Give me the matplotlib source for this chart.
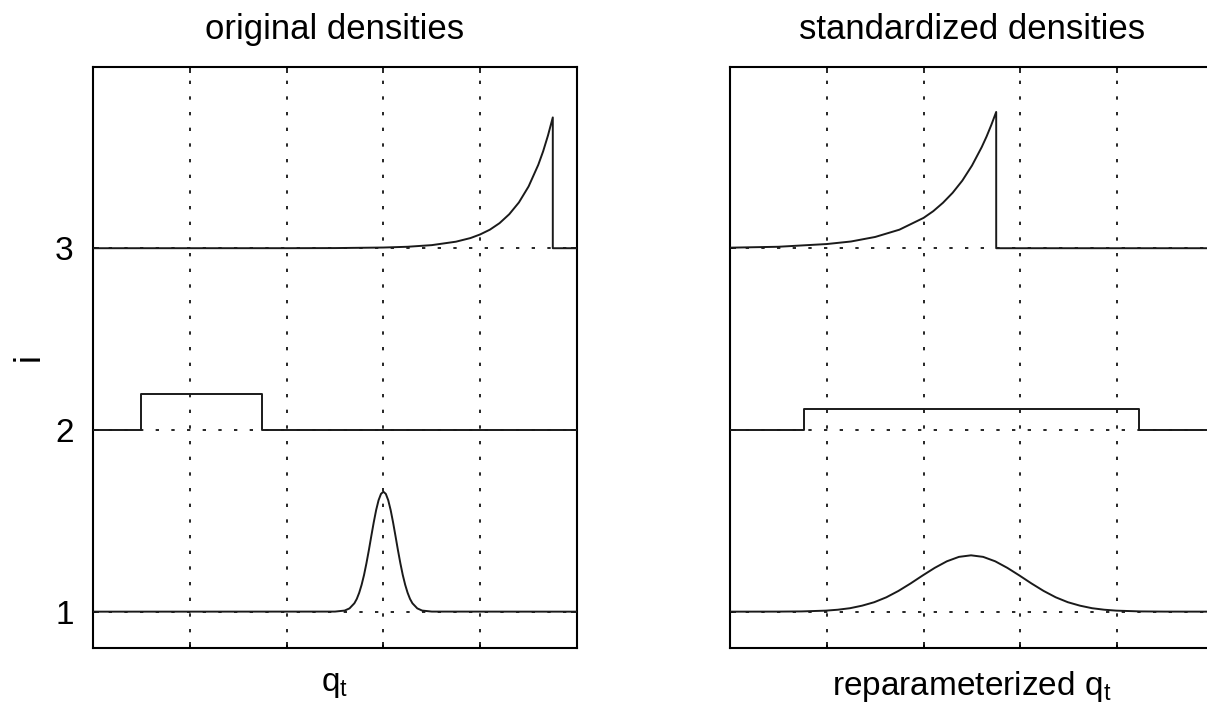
import matplotlib
matplotlib.use("Agg")
import matplotlib.pyplot as plt

plt.rcParams['font.family'] = ['Liberation Sans', 'DejaVu Sans']
plt.rcParams['mathtext.default'] = 'regular'

# ---------------- data ----------------
levels = [1, 2, 3]
titles = ["original densities", "standardized densities"]
xlabels = [r"q$_t$", r"reparameterized q$_t$"]
ytick_labels = ["1", "2", "3"]
grid_x = [1, 2, 3, 4]

# original densities
orig1_x = [0, 2.5, 2.6, 2.65, 2.7, 2.725, 2.75, 2.775, 2.8, 2.825, 2.85, 2.875,
           2.9, 2.925, 2.95, 2.975, 3.0, 3.025, 3.05, 3.075, 3.1, 3.125, 3.15,
           3.175, 3.2, 3.225, 3.25, 3.275, 3.3, 3.35, 3.4, 3.5, 5]
orig1_y = [0, 0.0004, 0.006, 0.018, 0.046, 0.070, 0.104, 0.148, 0.202, 0.267,
           0.339, 0.416, 0.491, 0.559, 0.613, 0.648, 0.66, 0.648, 0.613, 0.559,
           0.491, 0.416, 0.339, 0.267, 0.202, 0.148, 0.104, 0.070, 0.046, 0.018,
           0.006, 0.0004, 0]
orig2_x = [0, 0.5, 0.5, 1.75, 1.75, 5]
orig2_y = [0, 0, 0.2, 0.2, 0, 0]
orig3_x = [0, 2.0, 2.5, 3.0, 3.25, 3.5, 3.75, 3.9, 4.0, 4.1, 4.2, 4.3, 4.4,
           4.5, 4.6, 4.65, 4.7, 4.75, 4.75, 5]
orig3_y = [0, 0.0002, 0.0008, 0.0038, 0.008, 0.017, 0.036, 0.056, 0.076, 0.102,
           0.138, 0.187, 0.252, 0.340, 0.459, 0.533, 0.620, 0.72, 0, 0]

# standardized densities
std1_x = [0, 0.49, 0.74, 0.99, 1.115, 1.24, 1.365, 1.49, 1.615, 1.74, 1.865, 1.99,
          2.115, 2.24, 2.365, 2.49, 2.615, 2.74, 2.865, 2.99, 3.115, 3.24, 3.365,
          3.49, 3.615, 3.74, 3.865, 3.99, 4.24, 4.49, 5]
std1_y = [0, 0.0003, 0.0013, 0.0056, 0.0107, 0.019, 0.033, 0.052, 0.079, 0.114,
          0.155, 0.199, 0.241, 0.277, 0.3015, 0.31, 0.3015, 0.277, 0.241, 0.199,
          0.155, 0.114, 0.079, 0.052, 0.033, 0.019, 0.0107, 0.0056, 0.0013, 0.0003, 0]
std2_x = [0, 0.76, 0.76, 4.23, 4.23, 5]
std2_y = [0, 0, 0.115, 0.115, 0, 0]
std3_x = [0, 0.5, 1.0, 1.25, 1.5, 1.75, 2.0, 2.1, 2.2, 2.3, 2.4, 2.5, 2.6, 2.65,
          2.7, 2.75, 2.75, 5]
std3_y = [0.003, 0.008, 0.023, 0.037, 0.062, 0.102, 0.167, 0.204, 0.250, 0.305,
          0.372, 0.455, 0.556, 0.614, 0.679, 0.75, 0, 0]

panels = [
    [(orig1_x, orig1_y), (orig2_x, orig2_y), (orig3_x, orig3_y)],
    [(std1_x, std1_y), (std2_x, std2_y), (std3_x, std3_y)],
]

# ---------------- figure ----------------
W, H = 1207, 711
fig = plt.figure(figsize=(W / 100, H / 100), dpi=100)

ax_w = 484 / W
ax_h = (648 - 66.5) / H
bottom = (H - 648) / H
lefts = [93 / W, 730 / W]

FS = 24
for k in range(2):
    ax = fig.add_axes([lefts[k], bottom, ax_w, ax_h])
    ax.set_xlim(0, 5)
    ax.set_ylim(0.8, 4.0)
    ax.set_xticks(grid_x)
    ax.set_xticklabels([])
    ax.set_yticks(levels)
    if k == 0:
        ax.set_yticklabels(ytick_labels, fontsize=FS)
        ax.set_ylabel("i", fontsize=FS + 2, labelpad=6)
    else:
        ax.set_yticklabels([])
    ax.tick_params(direction='in', length=4, width=1.2, top=True, right=True,
                   pad=14, colors='black')
    ax.grid(True, color='black', linewidth=1.2, linestyle=(0, (2, 7.4)))
    ax.set_axisbelow(True)
    for sp in ax.spines.values():
        sp.set_linewidth(1.5)
        sp.set_color('black')
    for lev, (xs, ys) in zip(levels, panels[k]):
        ax.plot(xs, [lev + v for v in ys], color='#1a1a1a', linewidth=1.4,
                solid_joinstyle='round', zorder=3)
    ax.set_title(titles[k], fontsize=FS + 1, pad=20)
    ax.set_xlabel(xlabels[k], fontsize=FS, labelpad=1)

fig.savefig("out.png", dpi=100)
